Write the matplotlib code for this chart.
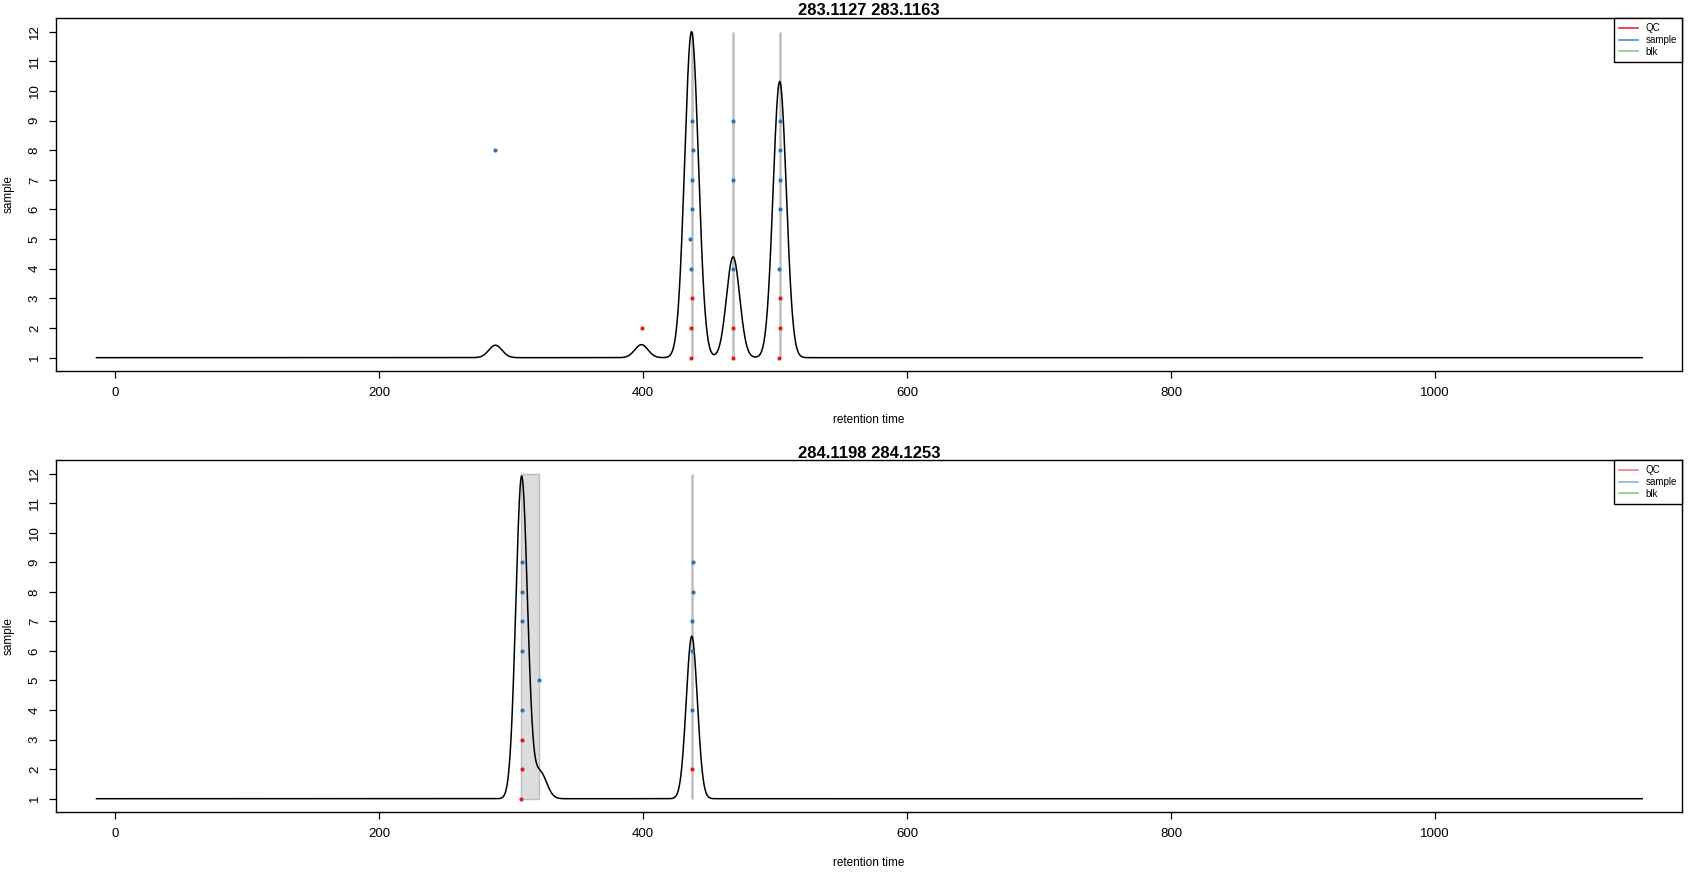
import numpy as np
import matplotlib
matplotlib.use("Agg")
import matplotlib.pyplot as plt
from matplotlib.lines import Line2D
from matplotlib.patches import Rectangle

plt.rcParams['font.family'] = ['Liberation Sans', 'DejaVu Sans']

# ---------------- data ----------------
titles = ["283.1127 283.1163", "284.1198 284.1253"]
x_ticks = [0, 200, 400, 600, 800, 1000]
y_ticks = list(range(1, 13))
rt_start, rt_end = -14, 1157
baseline = 1.0

# fitted peak models (center, height above baseline, width)
top_peak_centers = [288.2, 398.8, 436.8, 468.3, 503.6]
top_peak_heights = [0.42, 0.44, 11.0, 3.4, 9.32]
top_peak_widths = [5.0, 5.0, 5.2, 5.0, 5.0]

bot_peak_centers = [308.1, 322.0, 437.0]
bot_peak_heights = [10.9, 0.9, 5.5]
bot_peak_widths = [4.4, 5.0, 4.2]

# grey marker lines / region
top_vlines = [437.0, 468.4, 503.8]
bot_vlines = [437.1]
bot_region = (307.3, 321.2)

# sample points (retention time, sample index)
top_qc_x = [436.6, 436.4, 437.2, 468.0, 468.1, 503.3, 503.6, 503.8, 398.9]
top_qc_y = [1, 2, 3, 1, 2, 1, 2, 3, 2]
top_sample_x = [436.3, 436.0, 437.3, 437.5, 437.6, 437.4,
                468.4, 468.4, 468.4,
                503.4, 503.8, 503.8, 503.8, 503.8, 288.2]
top_sample_y = [4, 5, 6, 7, 8, 9,
                4, 7, 9,
                4, 6, 7, 8, 9, 8]

bot_qc_x = [307.9, 308.0, 308.4, 436.8]
bot_qc_y = [1, 2, 3, 2]
bot_sample_x = [308.0, 308.3, 308.3, 308.3, 308.1, 321.4,
                437.0, 437.5, 437.1, 437.6, 437.7]
bot_sample_y = [4, 6, 7, 8, 9, 5,
                4, 6, 7, 8, 9]

legend_labels = ["QC", "sample", "blk"]
legend_colors_top = ["#E8262B", "#4E8FD1", "#8ACD8A"]
legend_colors_bot = ["#F07C80", "#8EB1D8", "#7FCB7F"]

QC_COLOR = "#E41A1C"
SAMPLE_COLOR = "#2F73B5"


def chromatogram(x, centers, heights, widths):
    y = np.full_like(x, baseline)
    for c, h, w in zip(centers, heights, widths):
        y += h * np.exp(-0.5 * ((x - c) / w) ** 2)
    return y


rt = np.linspace(rt_start, rt_end, 6000)

fig = plt.figure(figsize=(16.89, 8.72), dpi=100)
ax_top = fig.add_axes([0.03298, 0.57420, 0.96305, 0.40516])
ax_bot = fig.add_axes([0.03298, 0.06846, 0.96305, 0.40402])

panels = [
    (ax_top, top_peak_centers, top_peak_heights, top_peak_widths, top_vlines, None,
     top_qc_x, top_qc_y, top_sample_x, top_sample_y, legend_colors_top, titles[0], 0.9876, 0.518, 0.7775),
    (ax_bot, bot_peak_centers, bot_peak_heights, bot_peak_widths, bot_vlines, bot_region,
     bot_qc_x, bot_qc_y, bot_sample_x, bot_sample_y, legend_colors_bot, titles[1], 0.4800, 0.0105, 0.2706),
]

for (ax, pc, ph, pw, vl, region, qx, qy, sx, sy, lcols, title, ty, xly, yly) in panels:
    if region is not None:
        ax.add_patch(Rectangle((region[0], 1), region[1] - region[0], 11,
                               facecolor="#DDDDDD", edgecolor="#BEBEBE", lw=1.0, zorder=1))
    for v in vl:
        ax.plot([v, v], [1, 12], color="#BEBEBE", lw=1.8, zorder=1, solid_capstyle='butt')
    ax.plot(rt, chromatogram(rt, pc, ph, pw), color="black", lw=1.1, zorder=2)
    ax.scatter(sx, sy, s=9, color=SAMPLE_COLOR, zorder=3, linewidths=0)
    ax.scatter(qx, qy, s=9, color=QC_COLOR, zorder=3, linewidths=0)

    ax.set_xlim(-44.9, 1187.4)
    ax.set_ylim(0.54, 12.46)
    ax.set_xticks(x_ticks)
    ax.set_yticks(y_ticks)
    ax.tick_params(axis='both', direction='out', length=5.2, width=0.9, labelsize=9.5, colors='black')
    ax.tick_params(axis='x', pad=6.0)
    ax.tick_params(axis='y', pad=5.5)
    for lab in ax.get_yticklabels():
        lab.set_rotation(90)
        lab.set_va('center')
    for sp in ax.spines.values():
        sp.set_linewidth(1.0)
        sp.set_color('black')

    handles = [Line2D([0], [0], color=c, lw=1.2) for c in lcols]
    leg = ax.legend(handles, legend_labels, loc='upper right', borderaxespad=0,
                    fontsize=7, frameon=True, fancybox=False, framealpha=1,
                    edgecolor='black', handlelength=1.9, handletextpad=0.8,
                    labelspacing=0.18, borderpad=0.55)
    leg.get_frame().set_linewidth(1.0)

    fig.text(0.5145, ty, title, ha='center', va='center', fontsize=12, fontweight='bold')
    fig.text(0.5145, xly, "retention time", ha='center', va='center', fontsize=8.5)
    fig.text(0.0051, yly, "sample", ha='center', va='center', rotation=90, fontsize=8.5)

fig.savefig("out.png", dpi=100)
